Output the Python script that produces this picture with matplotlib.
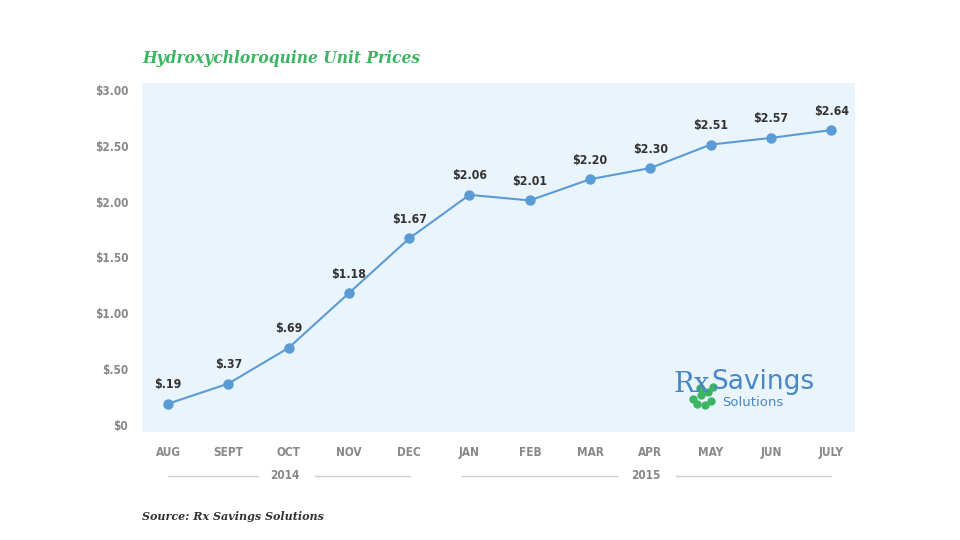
import matplotlib.pyplot as plt
from matplotlib.lines import Line2D

# data
months = ['AUG', 'SEPT', 'OCT', 'NOV', 'DEC', 'JAN', 'FEB', 'MAR', 'APR', 'MAY', 'JUN', 'JULY']
prices = [0.19, 0.37, 0.69, 1.18, 1.67, 2.06, 2.01, 2.20, 2.30, 2.51, 2.57, 2.64]
price_labels = ['$.19', '$.37', '$.69', '$1.18', '$1.67', '$2.06', '$2.01', '$2.20',
                '$2.30', '$2.51', '$2.57', '$2.64']
y_ticks = [0, 0.5, 1.0, 1.5, 2.0, 2.5, 3.0]
y_tick_labels = ['$0', '$.50', '$1.00', '$1.50', '$2.00', '$2.50', '$3.00']
years = ['2014', '2015']

narrow = ['DejaVu Sans']
serif = ['DejaVu Serif']

fig = plt.figure(figsize=(9.6, 5.4), dpi=100)
ax = fig.add_axes([0.148, 0.2, 0.743, 0.646])
ax.set_facecolor('#EAF4FC')
for s in ax.spines.values():
    s.set_visible(False)

x = list(range(len(months)))
ax.plot(x, prices, color='#5B9BD5', lw=1.5, marker='o', ms=6.5, zorder=3)
for xi, p, lab in zip(x, prices, price_labels):
    ax.annotate(lab, (xi, p), xytext=(0, 9), textcoords='offset points',
                ha='center', va='bottom', fontsize=8.8, fontweight='bold',
                color='#333333', family=narrow, stretch='condensed')

ax.set_xlim(-0.43, 11.4)
ax.set_ylim(-0.063, 3.06)
ax.set_xticks(x)
ax.set_xticklabels(months, family=narrow, fontsize=8.5, fontweight='bold', color='#888888',
                   stretch='condensed')
ax.set_yticks(y_ticks)
ax.set_yticklabels(y_tick_labels, family=narrow, fontsize=8.5, fontweight='bold', color='#888888',
                   stretch='condensed')
ax.tick_params(axis='x', length=0, pad=10)
ax.tick_params(axis='y', length=0, pad=10)

# year labels with rules
tr = ax.get_xaxis_transform()
yy = -0.126
for x0, x1 in [(0, 1.49), (2.44, 4.01), (4.88, 7.45), (8.42, 11.0)]:
    ax.add_line(Line2D([x0, x1], [yy, yy], transform=tr, color='#CCCCCC', lw=1, clip_on=False))
for xt, yr in zip([1.94, 7.93], years):
    ax.text(xt, yy, yr, transform=tr, ha='center', va='center', fontsize=8.5,
            fontweight='bold', color='#888888', family=narrow, stretch='condensed')

fig.text(0.148, 0.892, 'Hydroxychloroquine Unit Prices', fontsize=11.2, fontweight='bold',
         style='italic', color='#3CB563', family=serif, va='center')
fig.text(0.148, 0.043, 'Source: Rx Savings Solutions', fontsize=8, fontweight='bold',
         style='italic', color='#333333', family=serif, va='center')

# logo
fig.text(0.702, 0.288, 'Rx', fontsize=20, color='#4A86C5', family=serif, va='center')
fig.text(0.741, 0.292, 'Savings', fontsize=19, color='#4A86C5', family=['DejaVu Sans'], va='center')
fig.text(0.752, 0.255, 'Solutions', fontsize=9.5, color='#4A86C5', family=['DejaVu Sans'], va='center')
gx = [0.722, 0.730, 0.737, 0.743, 0.726, 0.734, 0.741, 0.729]
gy = [0.262, 0.268, 0.275, 0.284, 0.251, 0.250, 0.258, 0.282]
fig.add_artist(Line2D(gx, gy, ls='none', marker='o', ms=5, color='#3CB563', transform=fig.transFigure))

fig.savefig('out.png', dpi=100)
